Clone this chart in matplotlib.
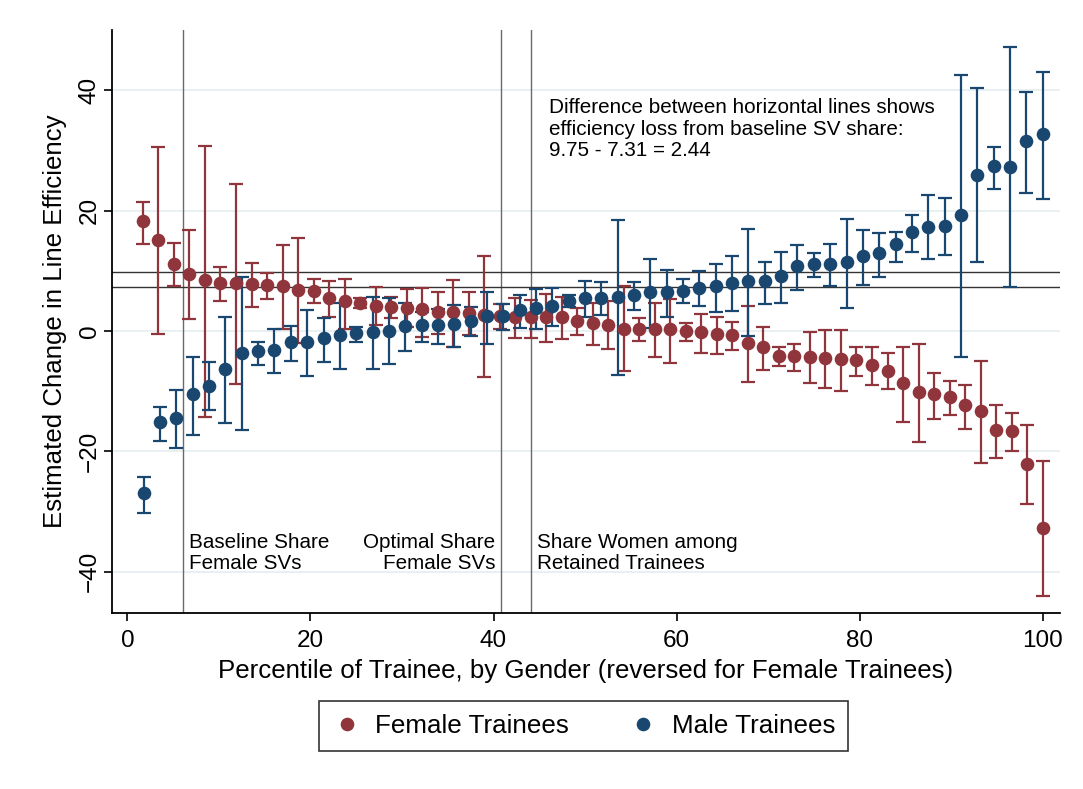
import numpy as np
import matplotlib
matplotlib.use("Agg")
import matplotlib.pyplot as plt
from matplotlib.lines import Line2D

plt.rcParams["font.family"] = ["Liberation Sans", "DejaVu Sans"]

# Estimated change in line efficiency by trainee percentile (female series reversed)
female_est = [18.2, 15.1, 11.2, 9.4, 8.5, 8.0, 7.9, 7.8, 7.6, 7.4,
              6.8, 6.7, 5.5, 5.0, 4.6, 4.2, 3.9, 3.8, 3.6, 3.2,
              3.2, 3.0, 2.7, 2.5, 2.4, 2.4, 2.4, 2.4, 1.7, 1.4,
              1.0, 0.4, 0.4, 0.3, 0.3, 0.0, -0.1, -0.5, -0.7, -2.0,
              -2.7, -4.2, -4.2, -4.4, -4.5, -4.7, -4.8, -5.6, -6.6, -8.7,
              -10.1, -10.5, -10.9, -12.3, -13.3, -16.4, -16.7, -22.1, -32.8]
female_lo = [14.4, -0.5, 7.5, 2.0, -14.3, 4.9, -8.8, 4.0, 5.3, 0.3,
             -2.0, 4.6, 2.4, 0.4, 3.8, 1.0, 2.2, 0.7, -1.0, -0.5,
             -2.6, -0.7, -7.6, 0.3, -1.1, -1.1, -1.8, -1.4, -0.7, -2.3,
             -3.0, -6.6, -1.6, -4.4, -5.3, -1.6, -3.7, -3.8, -3.2, -8.4,
             -6.5, -5.9, -6.6, -8.7, -9.5, -9.9, -7.4, -8.9, -9.7, -15.2,
             -18.4, -14.6, -14.0, -16.3, -21.9, -21.1, -20.0, -28.8, -44.0]
female_hi = [21.5, 30.6, 14.6, 16.7, 30.8, 10.7, 24.4, 11.3, 9.6, 14.2,
             15.4, 8.6, 8.3, 8.7, 5.4, 7.3, 5.6, 6.9, 7.1, 6.4,
             8.5, 6.4, 12.5, 4.5, 5.4, 5.1, 6.1, 5.7, 3.8, 4.6,
             4.9, 7.5, 2.1, 4.7, 5.3, 1.4, 2.9, 2.3, 1.5, 4.2,
             0.6, -2.6, -2.2, -0.1, 0.2, 0.2, -2.6, -2.7, -3.6, -2.6,
             -2.2, -7.0, -8.3, -8.9, -5.0, -12.3, -13.6, -15.7, -21.6]

male_est = [-27.0, -15.1, -14.4, -10.5, -9.1, -6.4, -3.6, -3.3, -3.2, -1.9,
            -1.8, -1.2, -0.7, -0.3, -0.2, 0.0, 0.8, 1.0, 1.0, 1.2,
            1.7, 2.5, 2.5, 3.5, 3.8, 4.2, 5.0, 5.5, 5.5, 5.7,
            6.0, 6.4, 6.4, 6.7, 7.2, 7.4, 8.0, 8.3, 8.3, 9.1,
            10.8, 11.1, 11.1, 11.5, 12.5, 12.9, 14.5, 16.4, 17.3, 17.5,
            19.3, 25.9, 27.4, 27.3, 31.5, 32.7]
male_lo = [-30.3, -18.2, -19.5, -17.2, -13.2, -15.3, -16.4, -5.6, -6.9, -5.0,
           -7.4, -5.2, -6.4, -1.8, -6.4, -5.5, -3.3, -1.8, -2.2, -2.6,
           -0.8, -2.2, 0.1, 0.5, 0.3, 0.8, 4.0, 2.3, 2.7, -7.3,
           3.5, 0.5, 2.4, 4.7, 4.2, 3.2, 3.3, -0.9, 4.5, 4.7,
           6.8, 8.9, 7.5, 3.8, 7.6, 8.9, 11.5, 13.2, 11.9, 12.6,
           -4.3, 11.4, 23.6, 7.3, 23.0, 21.9]
male_hi = [-24.2, -12.6, -9.8, -4.3, -5.2, 2.3, 9.0, -1.8, 0.3, 0.9,
           3.4, 2.2, 4.6, 0.7, 5.6, 5.4, 4.7, 3.2, 3.7, 4.3,
           3.9, 6.4, 4.5, 6.0, 6.9, 7.1, 6.0, 8.3, 8.1, 18.4,
           8.1, 11.9, 10.2, 8.6, 10.0, 11.2, 12.5, 16.9, 11.5, 13.1,
           14.3, 12.9, 14.4, 18.6, 16.7, 16.2, 16.5, 19.2, 22.6, 22.1,
           42.6, 40.3, 30.5, 47.1, 39.7, 43.1]

# Percentile position of each bin
female_pct = np.arange(1, len(female_est) + 1) * 100 / len(female_est)
male_pct = np.arange(1, len(male_est) + 1) * 100 / len(male_est)

# Reference lines
share_lines = [6.1, 40.8, 44.1]
efficiency_levels = [9.75, 7.31]

series_labels = ["Female Trainees", "Male Trainees"]
red = "#90353B"
blue = "#1A476F"

fig = plt.figure(figsize=(10.83, 7.89), dpi=100)
ax = fig.add_axes([0.1031, 0.2227, 0.8757, 0.7393])

for yv in [-40, -20, 0, 20, 40]:
    ax.axhline(yv, color="#e6eff1", lw=1.3, zorder=0)

for xv in share_lines:
    ax.axvline(xv, color="#6a6a6a", lw=1.0, zorder=1)
for yv in efficiency_levels:
    ax.axhline(yv, color="#333333", lw=1.0, zorder=1)


def draw_series(x, est, lo, hi, color):
    est = np.asarray(est)
    lo = np.asarray(lo)
    hi = np.asarray(hi)
    ax.errorbar(x, est, yerr=[est - lo, hi - est], fmt="none", ecolor=color,
                elinewidth=1.6, capsize=4.8, capthick=1.6, zorder=2)
    ax.plot(x, est, "o", color=color, ms=9.8, mec=color, mew=0, zorder=3)


draw_series(female_pct, female_est, female_lo, female_hi, red)
draw_series(male_pct, male_est, male_lo, male_hi, blue)

ax.set_xlim(-1.72, 101.9)
ax.set_ylim(-46.9, 50)
ax.set_xticks([0, 20, 40, 60, 80, 100])
ax.set_yticks([-40, -20, 0, 20, 40])

for side in ["top", "right"]:
    ax.spines[side].set_visible(False)
for side in ["left", "bottom"]:
    ax.spines[side].set_linewidth(1.3)

ax.tick_params(axis="both", labelsize=17.5, length=6, width=1.2, color="black")
ax.tick_params(axis="x", pad=6)
ax.tick_params(axis="y", pad=2)
for lab in ax.get_yticklabels():
    lab.set_rotation(90)
    lab.set_va("center")

ax.set_xlabel("Percentile of Trainee, by Gender (reversed for Female Trainees)",
              fontsize=18.6, labelpad=5)
ax.set_ylabel("Estimated Change in Line Efficiency", fontsize=18.6, labelpad=8)

txt_size = 14.9
spacing = 1.17
ax.text(46.1, 38.7,
        "Difference between horizontal lines shows\n"
        "efficiency loss from baseline SV share:\n"
        "9.75 - 7.31 = 2.44",
        fontsize=txt_size, va="top", ha="left", linespacing=spacing)
ax.text(6.7, -36.9, "Baseline Share\nFemale SVs", fontsize=txt_size,
        va="center", ha="left", linespacing=spacing)
ax.text(40.2, -36.9, "Optimal Share\nFemale SVs", fontsize=txt_size,
        va="center", ha="right", multialignment="right", linespacing=spacing)
ax.text(44.7, -36.9, "Share Women among\nRetained Trainees", fontsize=txt_size,
        va="center", ha="left", linespacing=spacing)

handles = [Line2D([], [], marker="o", ls="none", color=red, ms=9.8, mew=0),
           Line2D([], [], marker="o", ls="none", color=blue, ms=9.8, mew=0)]
leg = fig.legend(handles, series_labels, loc="center", ncol=2,
                 bbox_to_anchor=(0.539, 0.08), fontsize=18.7, frameon=True,
                 fancybox=False, edgecolor="black", handletextpad=0.55,
                 columnspacing=2.3, borderpad=0.5, handlelength=1.1)
leg.get_frame().set_linewidth(1.2)

fig.savefig("out.png", dpi=100, facecolor="white")
